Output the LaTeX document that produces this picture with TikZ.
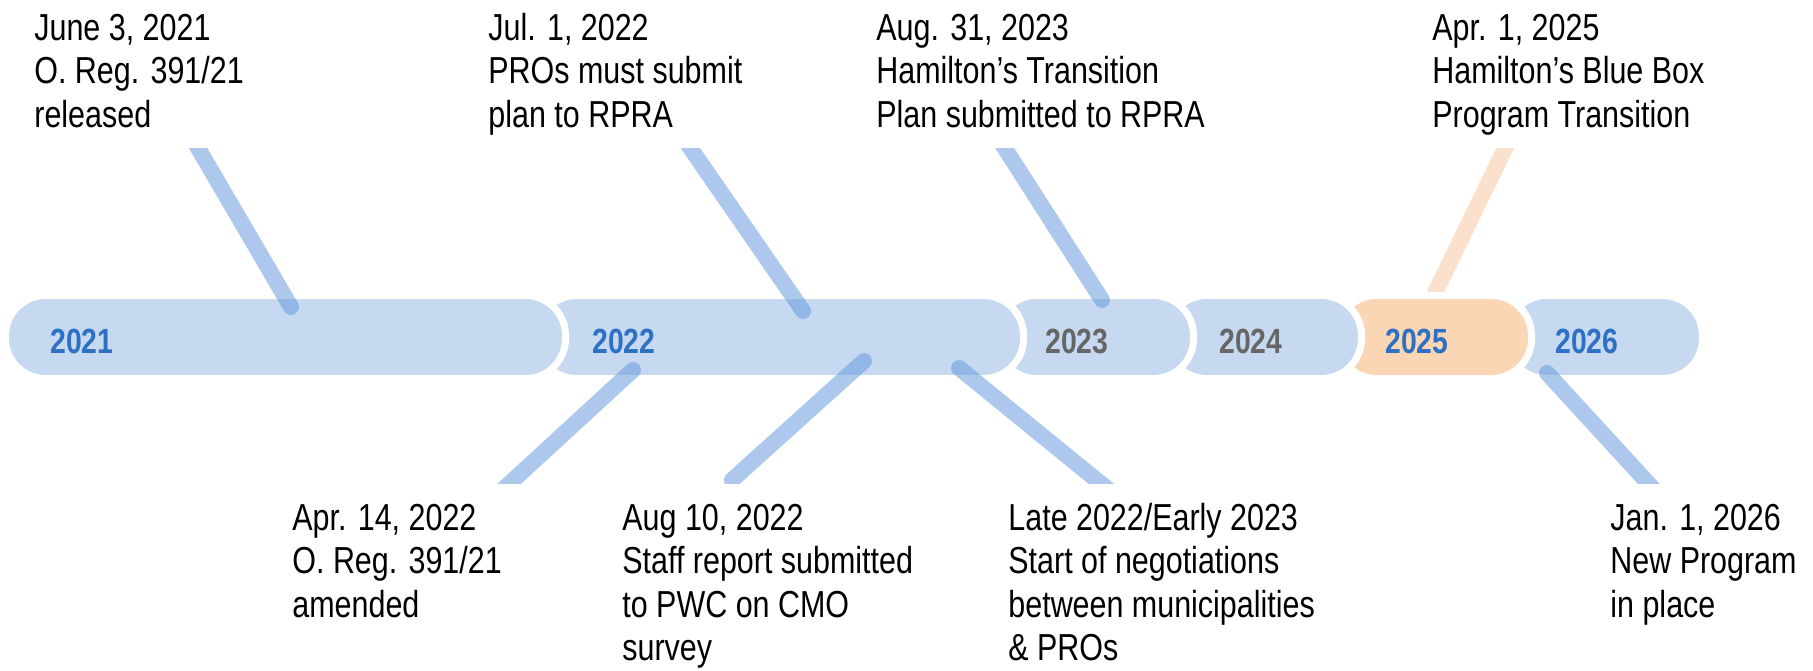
\documentclass[tikz,border=0pt]{standalone}
\usepackage{fontspec}
\setmainfont{Liberation Sans}[FakeStretch=0.81]
\definecolor{barblue}{RGB}{198,217,240}
\definecolor{barorange}{RGB}{251,214,181}
\definecolor{linkblue}{RGB}{105,155,220}
\definecolor{linkorange}{RGB}{248,200,160}
\definecolor{yearblue}{RGB}{46,112,196}
\definecolor{yeargray}{RGB}{102,102,102}
\tikzset{
  seg/.style={draw=white, line width=3.5pt, rounded corners=20pt},
  yearlbl/.style={anchor=base west, inner sep=0pt, font=\fontsize{17.5}{20}\selectfont\bfseries},
  evt/.style={anchor=base west, inner sep=0pt, font=\fontsize{18.8}{21.8}\selectfont},
  link/.style={line width=8pt, line cap=round, draw=linkblue, opacity=0.55},
  linko/.style={line width=8pt, line cap=round, draw=linkorange, opacity=0.55},
}
\newcommand\evlines[1]{\begin{tabular}[t]{@{}l@{}}#1\end{tabular}}
\begin{document}
\begin{tikzpicture}[x=0.5pt,y=-0.5pt]
\useasboundingbox (0,0) rectangle (1813,670);
% connector end points
\coordinate (l1a) at (191,136);  \coordinate (l1b) at (291,307);
\coordinate (l2a) at (682,136);  \coordinate (l2b) at (803,311);
\coordinate (l3a) at (997,136);  \coordinate (l3b) at (1102,300);
\coordinate (l4a) at (1511,136); \coordinate (l4b) at (1433,297);
\coordinate (l5a) at (633,370);  \coordinate (l5b) at (497,495);
\coordinate (l6a) at (864,361);  \coordinate (l6b) at (732,480);
\coordinate (l7a) at (959,368);  \coordinate (l7b) at (1115,495);
\coordinate (l8a) at (1547,373); \coordinate (l8b) at (1659,495);
% orange connector lies under the bar
\begin{scope}
\clip (0,148) rectangle (1813,483);
\draw[linko] (l4a) -- (l4b);
\end{scope}
% timeline segments, drawn right to left
\path[seg, fill=barblue]   (1506.5,295.5) rectangle (1702.5,378.5);
\path[seg, fill=barorange] (1336.5,295.5) rectangle (1531.5,378.5);
\path[seg, fill=barblue]   (1166.5,295.5) rectangle (1361.5,378.5);
\path[seg, fill=barblue]   (996.5,295.5) rectangle (1193.5,378.5);
\path[seg, fill=barblue]   (536.5,295.5) rectangle (1023.5,378.5);
\path[seg, fill=barblue]   (5.5,295.5) rectangle (565.5,378.5);
% year labels
\node[yearlbl, text=yearblue] (y2021) at (50,353) {2021};
\node[yearlbl, text=yearblue] (y2022) at (592,353) {2022};
\node[yearlbl, text=yeargray] (y2023) at (1045,353) {2023};
\node[yearlbl, text=yeargray] (y2024) at (1219,353) {2024};
\node[yearlbl, text=yearblue] (y2025) at (1385,353) {2025};
\node[yearlbl, text=yearblue] (y2026) at (1555,353) {2026};
% blue connectors over the bar
\begin{scope}
\clip (0,148) rectangle (1813,483);
\draw[link] (l1a) -- (l1b);
\draw[link] (l2a) -- (l2b);
\draw[link] (l3a) -- (l3b);
\draw[link] (l5a) -- (l5b);
\draw[link] (l6a) -- (l6b);
\draw[link] (l7a) -- (l7b);
\draw[link] (l8a) -- (l8b);
\end{scope}
% event texts
\node[evt] (e1) at (34,40) {\evlines{June 3, 2021\\O. Reg. 391/21\\released}};
\node[evt] (e2) at (488,40) {\evlines{Jul. 1, 2022\\PROs must submit\\plan to RPRA}};
\node[evt] (e3) at (876,40) {\evlines{Aug. 31, 2023\\Hamilton’s Transition\\Plan submitted to RPRA}};
\node[evt] (e4) at (1432,40) {\evlines{Apr. 1, 2025\\Hamilton’s Blue Box\\Program Transition}};
\node[evt] (e5) at (292,530) {\evlines{Apr. 14, 2022\\O. Reg. 391/21\\amended}};
\node[evt] (e6) at (622,530) {\evlines{Aug 10, 2022\\Staff report submitted\\to PWC on CMO\\survey}};
\node[evt] (e7) at (1008,530) {\evlines{Late 2022/Early 2023\\Start of negotiations\\between municipalities\\\& PROs}};
\node[evt] (e8) at (1610,530) {\evlines{Jan. 1, 2026\\New Program\\in place}};
\end{tikzpicture}
\end{document}
